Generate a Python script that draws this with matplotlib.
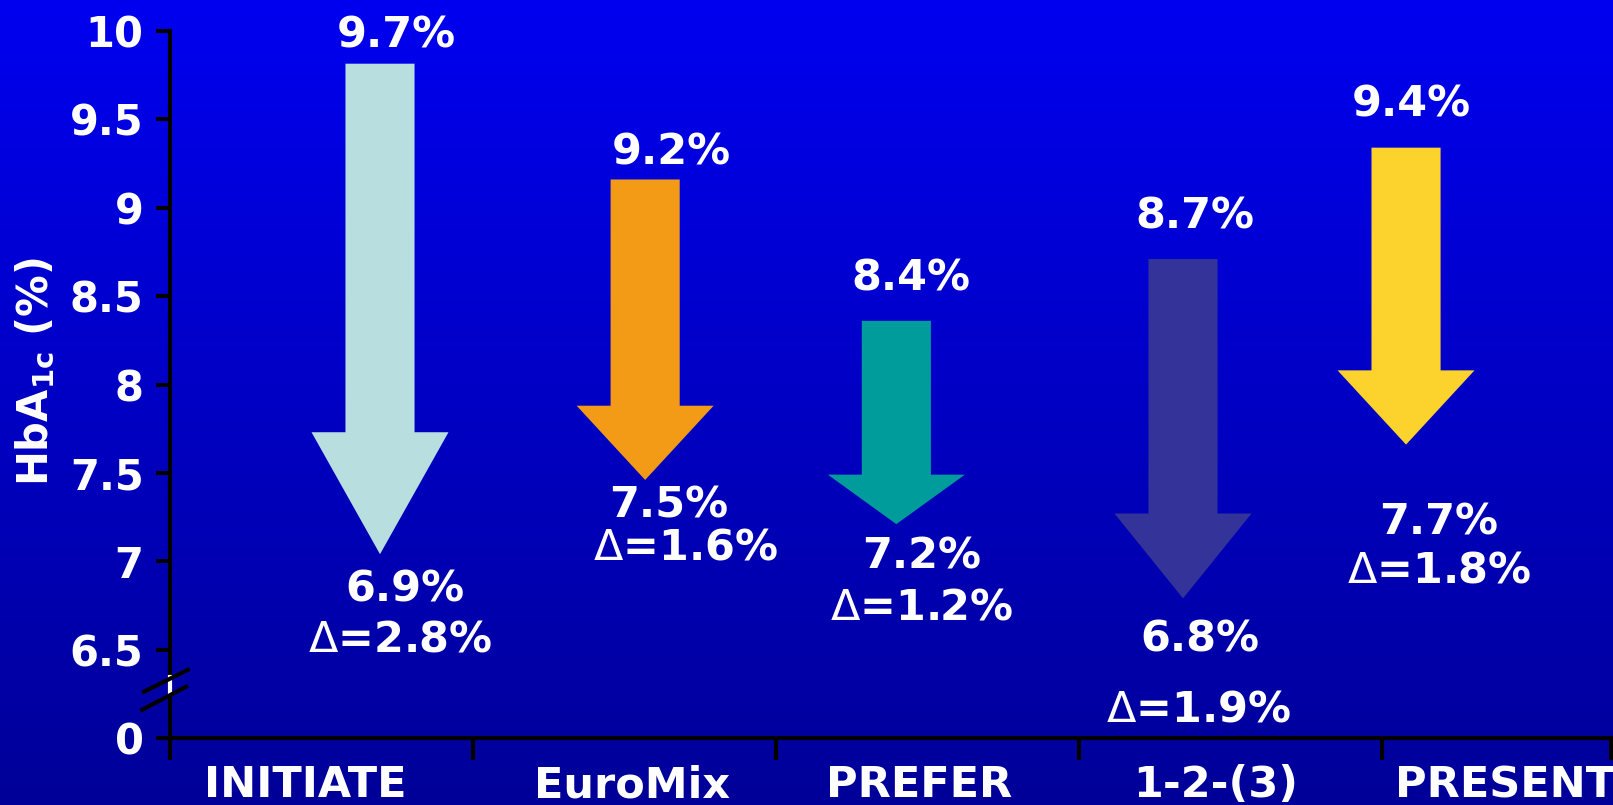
import numpy as np
import matplotlib
matplotlib.use("Agg")
import matplotlib.pyplot as plt

# studies and HbA1c values
studies = ["INITIATE", "EuroMix", "PREFER", "1-2-(3)", "PRESENT"]
baseline = [9.7, 9.2, 8.4, 8.7, 9.4]
endpoint = [6.9, 7.5, 7.2, 6.8, 7.7]
delta = [2.8, 1.6, 1.2, 1.9, 1.8]
colors = ["#B8DEE0", "#F39B17", "#009B9B", "#333399", "#FCD22D"]

# arrow extents as drawn on the slide (top of shaft, start of head, tip)
arrow_top = [9.815, 9.16, 8.36, 8.71, 9.34]
arrow_head = [7.73, 7.88, 7.49, 7.27, 8.08]
arrow_tip = [7.04, 7.46, 7.21, 6.79, 7.66]

# y axis: 6.0 position is shown as "0" (broken axis)
ytick_vals = [6.0, 6.5, 7.0, 7.5, 8.0, 8.5, 9.0, 9.5, 10.0]
ytick_labels = ["0", "6.5", "7", "7.5", "8", "8.5", "9", "9.5", "10"]

# layout (category units / data units)
arrow_x = [0.693, 1.568, 2.397, 3.343, 4.079]
top_lbl_x = [0.746, 1.653, 2.446, 3.383, 4.096]
top_lbl_y = [9.904, 9.243, 8.532, 8.882, 9.514]
end_lbl_x = [0.776, 1.647, 2.479, 3.399, 4.185]
end_lbl_y = [6.770, 7.245, 6.957, 6.488, 7.154]
dlt_lbl_x = [0.759, 1.703, 2.479, 3.396, 4.188]
dlt_lbl_y = [6.488, 7.010, 6.669, 6.093, 6.878]
cat_lbl_x = [0.446, 1.525, 2.472, 3.452, 4.406]

FS = 30
FS_LBL = 31
plt.rcParams['font.family'] = ['DejaVu Sans']
plt.rcParams['mathtext.fontset'] = 'dejavusans'

fig = plt.figure(figsize=(16.13, 8.05), dpi=100)

# background gradient
bg = fig.add_axes([0, 0, 1, 1], zorder=-10)
grad = np.linspace(0, 1, 256).reshape(-1, 1)
top_c = np.array([0, 0, 240]) / 255
bot_c = np.array([0, 0, 152]) / 255
img = top_c[None, None, :] * (1 - grad[:, :, None]) + bot_c[None, None, :] * grad[:, :, None]
bg.imshow(img, aspect='auto', extent=[0, 1, 0, 1])
bg.axis('off')

ax = fig.add_axes([0.1054, 0.0832, 0.8946, 0.8783])
ax.set_facecolor('none')
ax.set_xlim(0, 4.762)
ax.set_ylim(6.0, 10.0)

for s in ['top', 'right']:
    ax.spines[s].set_visible(False)
for s in ['left', 'bottom']:
    ax.spines[s].set_color('black')
    ax.spines[s].set_linewidth(3)

ax.set_yticks(ytick_vals)
ax.set_yticklabels(ytick_labels)
ax.tick_params(axis='y', length=10, width=3, color='black', pad=9,
               labelsize=FS, labelcolor='white')
for t in ax.get_yticklabels():
    t.set_fontweight('bold')
ax.set_xticks([0, 1, 2, 3, 4, 4.755])
ax.set_xticklabels([])
ax.tick_params(axis='x', length=16, width=3, color='black')

# arrows
sw, hw = 0.114, 0.226
for c, t, hb, tip, col in zip(arrow_x, arrow_top, arrow_head, arrow_tip, colors):
    xs = [c - sw, c + sw, c + sw, c + hw, c, c - hw, c - sw]
    ys = [t, t, hb, hb, tip, hb, hb]
    ax.fill(xs, ys, color=col, lw=0, zorder=3)

txt = dict(color='white', fontsize=FS_LBL, fontweight='bold', ha='center',
           va='baseline', clip_on=False)
for i in range(len(studies)):
    ax.text(top_lbl_x[i], top_lbl_y[i], f"{baseline[i]}%", **txt)
    ax.text(end_lbl_x[i], end_lbl_y[i], f"{endpoint[i]}%", **txt)
    ax.text(dlt_lbl_x[i], dlt_lbl_y[i], r"$\Delta$" + f"={delta[i]}%", **txt)
    ax.text(cat_lbl_x[i], -0.0835, studies[i], transform=ax.get_xaxis_transform(), **txt)

# axis break
ax.plot([0, 0], [6.25, 6.345], color='white', lw=3, clip_on=False, zorder=5)
ax.plot([-0.086, 0.059], [6.262, 6.386], color='black', lw=3, clip_on=False, zorder=6)
ax.plot([-0.092, 0.053], [6.160, 6.290], color='black', lw=3, clip_on=False, zorder=6)

fig.text(36 / 1613, 1 - 372 / 805, r"HbA$_{\mathbf{1c}}$ (%)", rotation=90,
         color='white', fontsize=FS, fontweight='bold', ha='center', va='center')

fig.savefig("out.png", dpi=100)
